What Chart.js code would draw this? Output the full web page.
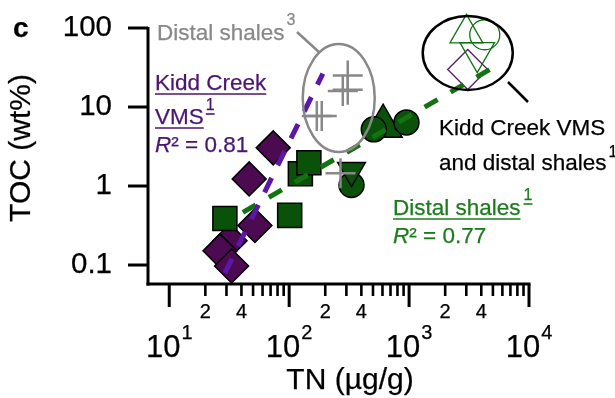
<!DOCTYPE html>
<html>
<head>
<meta charset="utf-8">
<script src="https://cdn.jsdelivr.net/npm/chart.js@4"></script>
<style>
  body { margin: 0; background: #fff; }
  #wrap { width: 615px; height: 398px; position: relative; }
</style>
</head>
<body>
<div id="wrap"><canvas id="chart"></canvas></div>
<script>
// Kidd Creek VMS (purple diamonds)
const kiddTN = [73.6, 46.4, 51.8, 32.1, 26.5, 33.1];
const kiddTOC = [3.04, 1.23, 0.316, 0.203, 0.151, 0.097];

// Distal shales (green, different shapes)
const squareTN = [29.1, 101, 124, 146];
const squareTOC = [0.389, 0.425, 1.43, 1.97];
const circleTN = [508, 951, 331];
const circleTOC = [5.22, 6.37, 1.03];
const triUpTN = [607];
const triUpTOC = [5.71];
const triDownTN = [331];
const triDownTOC = [1.57];

// Distal shales 3 (grey crosses)
const crossTN = [308, 280, 308, 170, 187, 268];
const crossTOC = [25.0, 16.0, 16.5, 7.67, 7.67, 1.45];

// Regression lines (end points)
const kiddFitTN = [29.1, 191];
const kiddFitTOC = [0.079, 26.5];
const distalFitTN = [41.1, 5380];
const distalFitTOC = [0.464, 33.6];

// Symbols drawn inside the black callout
const insetTriUpTN = [3006], insetTriUpTOC = [85.5];
const insetCircleTN = [4276], insetCircleTOC = [82.1];
const insetTriDownTN = [3700], insetTriDownTOC = [48.8];
const insetDiamondTN = [3081], insetDiamondTOC = [29.8];

// Axes
const xMin = 6.65, xMax = 10000;
const yMin = 0.0575, yMax = 100;
const xMajor = [10, 100, 1000, 10000];
const xMinor = [2, 3, 4, 5, 6, 7, 8, 9];
const xMinorLabels = [2, 4];
const yTicks = [0.1, 1, 10, 100];
const yTickLabels = ['0.1', '1', '10', '100'];

const colors = {
    kidd: '#4c0a50',
    kiddLine: '#5b17a8',
    kiddText: '#4a1670',
    distal: '#0a510a',
    distalLine: '#137313',
    distalText: '#1c7c1c',
    grey: '#888888'
};

const FONT = '"Liberation Sans", Arial, sans-serif';
const pts = (xs, ys) => xs.map((x, i) => ({ x, y: ys[i] }));

function txt(ctx, s, x, y, o = {}) {
    const size = o.size || 22.5;
    ctx.save();
    ctx.font = `${o.style || ''} ${o.weight || ''} ${size}px ${FONT}`;
    ctx.fillStyle = o.color || '#000';
    ctx.strokeStyle = o.color || '#000';
    ctx.textBaseline = o.base || 'alphabetic';
    const w = ctx.measureText(s).width;
    let x0 = x;
    if (o.align === 'center') x0 = x - w / 2;
    if (o.align === 'right') x0 = x - w;
    ctx.fillText(s, x0, y);
    // a touch heavier, like the source raster
    ctx.lineWidth = 0.25;
    ctx.strokeText(s, x0, y);
    if (o.underline) {
        ctx.lineWidth = 1.6;
        ctx.beginPath();
        ctx.moveTo(x0, y + 4);
        ctx.lineTo(x0 + w, y + 4);
        ctx.stroke();
    }
    ctx.restore();
    return x0 + w;
}

function line(ctx, x1, y1, x2, y2, color, w) {
    ctx.save();
    ctx.strokeStyle = color;
    ctx.lineWidth = w;
    ctx.beginPath();
    ctx.moveTo(x1, y1);
    ctx.lineTo(x2, y2);
    ctx.stroke();
    ctx.restore();
}

function ellipse(ctx, cx, cy, rx, ry, color, w) {
    ctx.save();
    ctx.strokeStyle = color;
    ctx.lineWidth = w;
    ctx.beginPath();
    ctx.ellipse(cx, cy, rx, ry, 0, 0, Math.PI * 2);
    ctx.stroke();
    ctx.restore();
}

const decor = {
    id: 'decor',
    afterDatasetsDraw(chart) {
        const ctx = chart.ctx;
        const xs = chart.scales.x, ys = chart.scales.y;
        const a = chart.chartArea;

        // axis lines
        line(ctx, a.left, a.top - 1, a.left, a.bottom + 1.5, '#000', 3);
        line(ctx, a.left - 1.5, a.bottom, a.right + 1.5, a.bottom, '#000', 3);

        // y ticks + labels
        yTicks.forEach((v, i) => {
            const py = ys.getPixelForValue(v);
            line(ctx, a.left - 20, py, a.left, py, '#000', 3);
            txt(ctx, yTickLabels[i], a.left - 36, py, { size: 29.5, align: 'right', base: 'middle' });
        });

        // x ticks + labels
        xMajor.forEach((v, k) => {
            const px = xs.getPixelForValue(v);
            line(ctx, px, a.bottom, px, a.bottom + 23, '#000', 3);
            const exp = String(Math.round(Math.log10(v)));
            ctx.save();
            ctx.font = `31px ${FONT}`;
            const w1 = ctx.measureText('10').width;
            ctx.font = `20px ${FONT}`;
            const w2 = ctx.measureText(exp).width;
            ctx.restore();
            const x0 = px - (w1 + w2 + 1) / 2;
            txt(ctx, '10', x0, 357, { size: 31 });
            txt(ctx, exp, x0 + w1 + 1, 339, { size: 20 });
            if (k < xMajor.length - 1) {
                xMinor.forEach(m => {
                    const mx = xs.getPixelForValue(v * m);
                    line(ctx, mx, a.bottom, mx, a.bottom + 12, '#000', 2.6);
                    if (xMinorLabels.includes(m)) {
                        txt(ctx, String(m), mx, 318, { size: 20, align: 'center' });
                    }
                });
            }
        });

        // axis titles
        txt(ctx, 'TN (µg/g)', 350, 389, { size: 30, align: 'center' });
        ctx.save();
        ctx.translate(30, 148);
        ctx.rotate(-Math.PI / 2);
        txt(ctx, 'TOC (wt%)', 0, 0, { size: 30, align: 'center' });
        ctx.restore();
        txt(ctx, 'c', 13, 37, { size: 28, weight: 'bold' });

        // grey callout for distal shales 3
        const gx = xs.getPixelForValue(259), gy = ys.getPixelForValue(13.0);
        ellipse(ctx, gx, gy, 36, 54, colors.grey, 2.5);
        line(ctx, 297, 32, 320, 53, colors.grey, 2.5);
        let e = txt(ctx, 'Distal shales', 157, 40, { color: colors.grey });
        txt(ctx, '3', e + 2, 25, { size: 16, color: colors.grey });

        // black callout
        const bx = xs.getPixelForValue(3084), by = ys.getPixelForValue(48.3);
        ellipse(ctx, bx, by, 45, 37, '#000', 2.5);
        line(ctx, 508, 82, 528, 102, '#000', 2.5);
        txt(ctx, 'Kidd Creek VMS', 439, 135);
        e = txt(ctx, 'and distal shales', 439, 170);
        txt(ctx, '1', e + 2, 157, { size: 16 });

        // Kidd Creek label
        txt(ctx, 'Kidd Creek', 155, 90, { color: colors.kiddText, underline: true });
        e = txt(ctx, 'VMS', 155, 124, { color: colors.kiddText, underline: true });
        txt(ctx, '1', e + 2, 110, { size: 16, color: colors.kiddText, underline: true });
        e = txt(ctx, 'R', 155, 152, { color: colors.kiddText, style: 'italic' });
        txt(ctx, '² = 0.81', e, 152, { color: colors.kiddText });

        // Distal shales label
        e = txt(ctx, 'Distal shales', 393, 215, { color: colors.distalText, underline: true });
        txt(ctx, '1', e + 3, 200, { size: 16, color: colors.distalText, underline: true });
        e = txt(ctx, 'R', 393, 243, { color: colors.distalText, style: 'italic' });
        txt(ctx, '² = 0.77', e, 243, { color: colors.distalText });
    }
};

const marker = (label, data, style, radius, fill, extra = {}) => ({
    label, data, pointStyle: style, pointRadius: radius,
    backgroundColor: fill, borderColor: '#000', borderWidth: 1.5,
    showLine: false, clip: false, order: 5, ...extra
});

const fitLine = (label, data, color, dash) => ({
    type: 'line', label, data, borderColor: color, borderWidth: 5,
    borderDash: dash, pointRadius: 0, fill: false, clip: false, order: 0
});

new Chart(document.getElementById('chart'), {
    type: 'scatter',
    data: {
        datasets: [
            fitLine('Kidd Creek fit', pts(kiddFitTN, kiddFitTOC), colors.kiddLine, [16, 14]),
            fitLine('Distal shales fit', pts(distalFitTN, distalFitTOC), colors.distalLine, [15, 15]),
            marker('Distal shales 3', pts(crossTN, crossTOC), 'cross', 15, colors.grey,
                { borderColor: colors.grey, borderWidth: 2.5, order: 2 }),
            marker('Inverted triangles', pts(triDownTN, triDownTOC), 'triangle', 16, colors.distal, { rotation: 180, order: 3 }),
            marker('Circles', pts(circleTN, circleTOC), 'circle', 12.5, colors.distal, { order: 4 }),
            marker('Triangles', pts(triUpTN, triUpTOC), 'triangle', 22, colors.distal, { order: 4 }),
            marker('Squares', pts(squareTN, squareTOC), 'rect', 17, colors.distal),
            marker('Kidd Creek VMS', pts(kiddTN, kiddTOC), 'rectRot', 17, colors.kidd, { order: 6 }),
            marker('inset triangle', pts(insetTriUpTN, insetTriUpTOC), 'triangle', 19, 'transparent',
                { borderColor: colors.distalLine, borderWidth: 1.3 }),
            marker('inset circle', pts(insetCircleTN, insetCircleTOC), 'circle', 15, 'transparent',
                { borderColor: colors.distalLine, borderWidth: 1.3 }),
            marker('inset inverted triangle', pts(insetTriDownTN, insetTriDownTOC), 'triangle', 20, 'transparent',
                { borderColor: colors.distalLine, borderWidth: 1.3, rotation: 180 }),
            marker('inset diamond', pts(insetDiamondTN, insetDiamondTOC), 'rectRot', 20, 'transparent',
                { borderColor: '#5a1a70', borderWidth: 1.3 })
        ]
    },
    options: {
        responsive: true,
        maintainAspectRatio: false,
        animation: false,
        layout: { padding: { left: 148, top: 28, right: 86, bottom: 114 } },
        plugins: { legend: { display: false }, tooltip: { enabled: false } },
        scales: {
            x: { type: 'logarithmic', min: xMin, max: xMax, display: false },
            y: { type: 'logarithmic', min: yMin, max: yMax, display: false }
        }
    },
    plugins: [decor]
});
</script>
</body>
</html>
